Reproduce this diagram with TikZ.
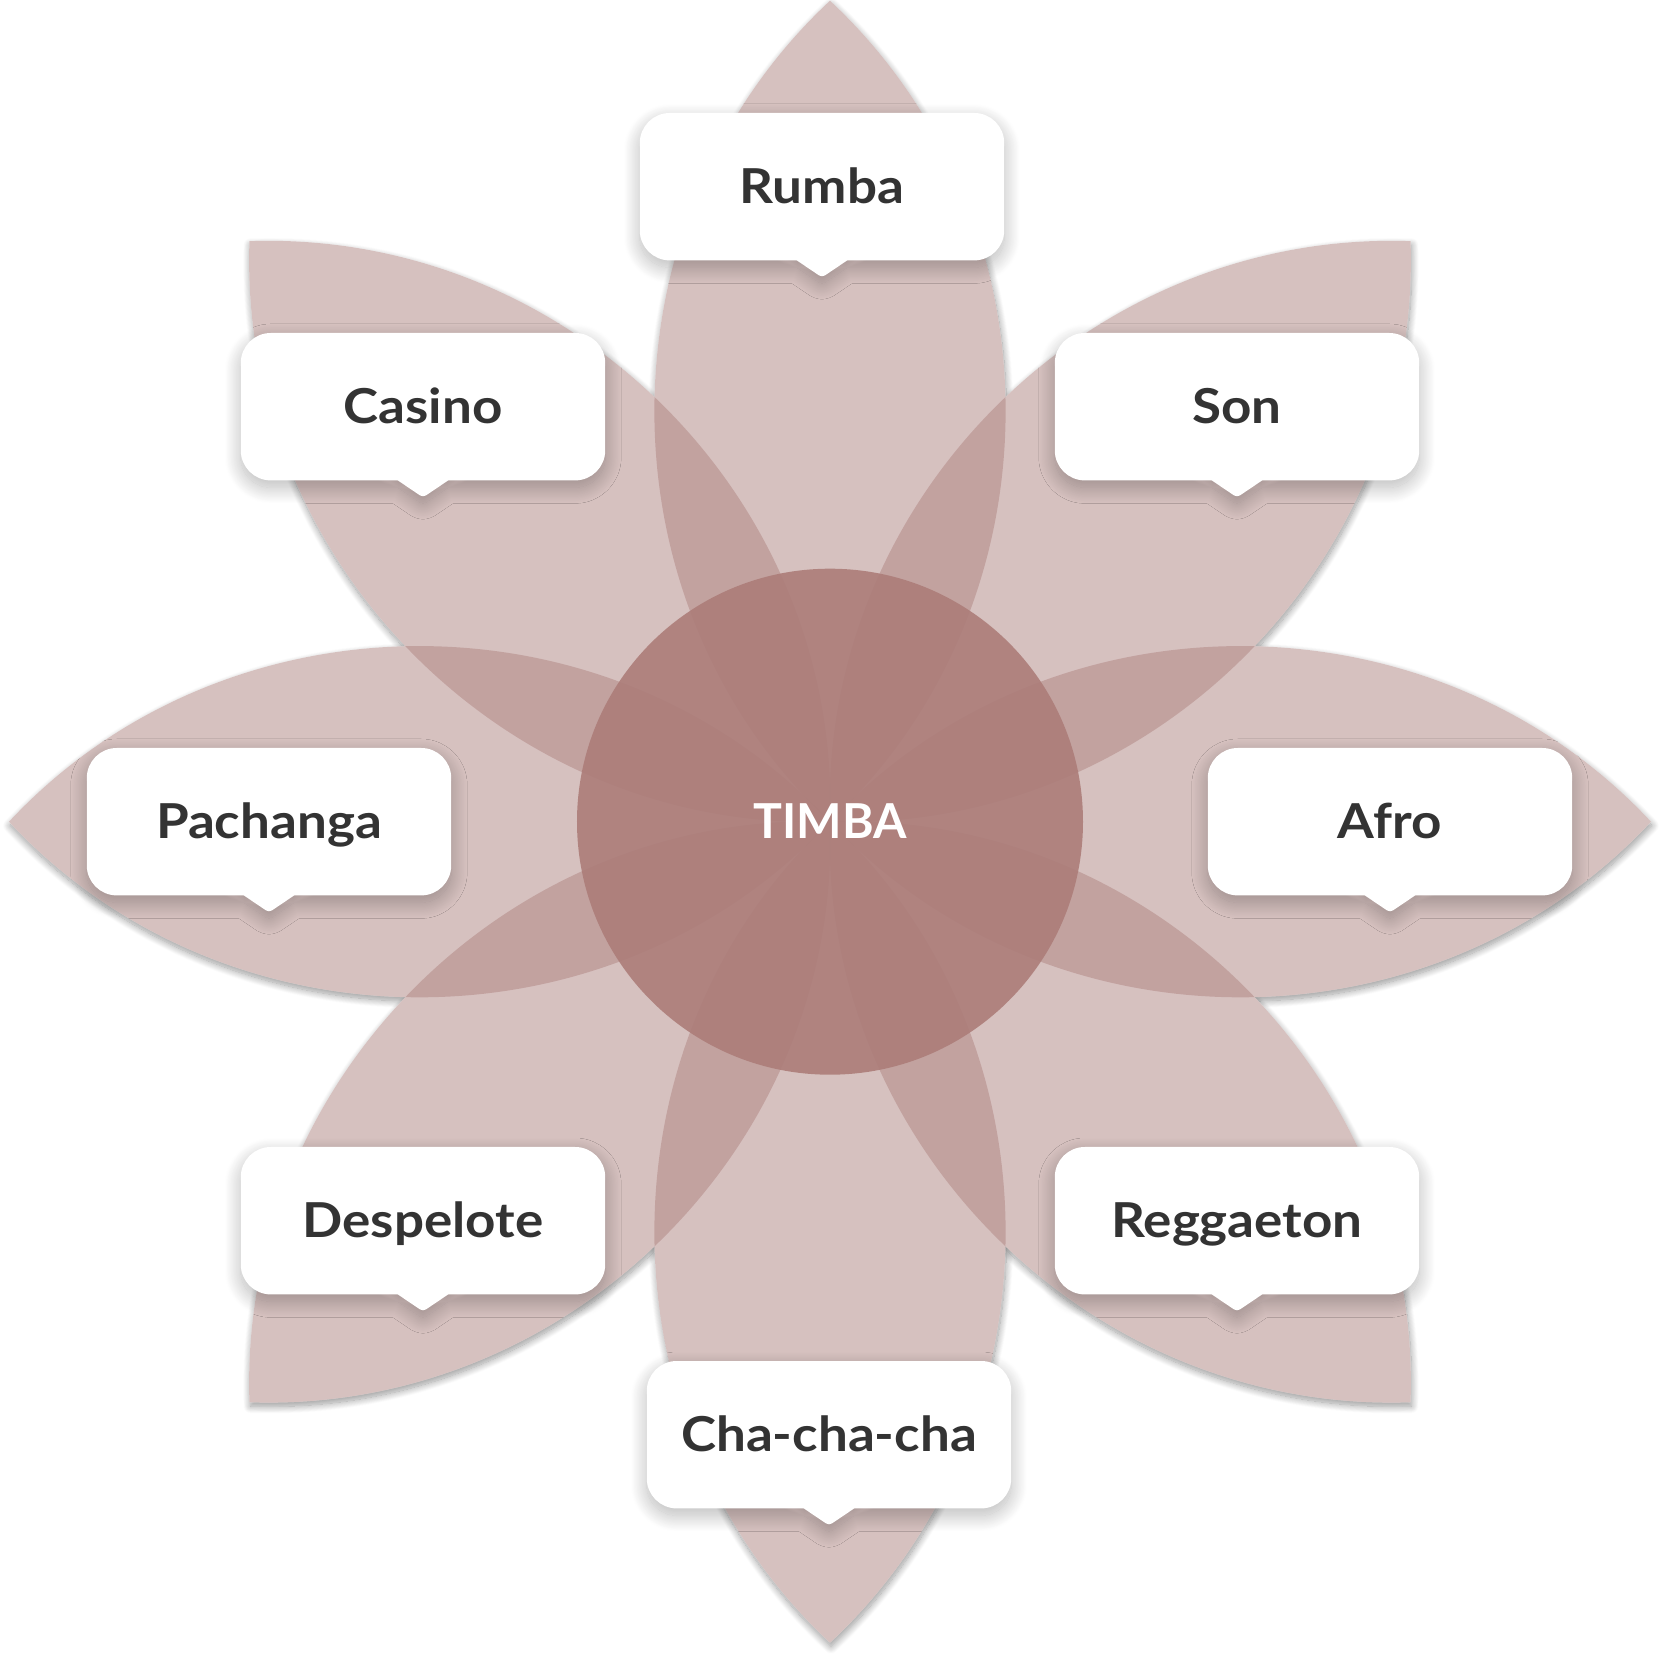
\documentclass[tikz,border=0pt]{standalone}
\usepackage{fontspec}
\setmainfont{Lato}
\newfontfamily\labelfont[FakeStretch=1.1]{Lato}
\usetikzlibrary{backgrounds, shadows.blur}
\definecolor{petalrose}{RGB}{175,132,129}
\definecolor{centerrose}{RGB}{172,125,121}
\definecolor{labelgray}{RGB}{51,51,51}

\begin{document}
\begin{tikzpicture}
\tikzstyle{lbl} = [rectangle, minimum width=3.63cm, minimum height=1.46cm, text height=.34cm, text depth=0pt, font=\labelfont\bfseries\fontsize{13.7}{16}\selectfont, text=labelgray]
\tikzstyle{petalshadow} = [blur shadow={shadow xshift=.01cm, shadow yshift=-.04cm, shadow blur radius=.07cm, shadow blur steps=16, shadow opacity=40}]
\tikzstyle{petal} = [fill=petalrose, fill opacity=.5]
\tikzstyle{card} = [fill=white, blur shadow={shadow xshift=0cm, shadow yshift=-.07cm, shadow blur radius=.16cm, shadow blur steps=30, shadow opacity=28}]

\useasboundingbox (-8.30,-8.443) rectangle (8.50,8.217);

\coordinate (c) at (0,0);
\foreach \a in {0,45,...,315} \coordinate (tip\a) at (\a:8.21);

% petals: shadows, white base, then the see-through colour
\begin{scope}[on background layer]
\foreach \a in {0,45,...,315}
  \path[petalshadow] (c) to[bend left=47] (tip\a) to[bend left=47] (c) -- cycle;
\foreach \a in {0,45,...,315}
  \fill[white] (c) to[bend left=47] (tip\a) to[bend left=47] (c) -- cycle;
\foreach \a in {0,45,...,315}
  \fill[petal] (c) to[bend left=47] (tip\a) to[bend left=47] (c) -- cycle;
\end{scope}

\node (timba) [circle, minimum size=5.06cm, fill=centerrose, fill opacity=.9, text opacity=1, text=white, text height=.34cm, text depth=0pt, font=\bfseries\fontsize{13.7}{16}\selectfont] at (c) {TIMBA};

\node (rumba) [lbl, above of=timba, yshift=5.35cm, xshift=-.08cm] {Rumba};
\node (casino) [lbl, above of=timba, yshift=3.15cm, xshift=-4.07cm] {Casino};
\node (son) [lbl, above of=timba, yshift=3.15cm, xshift=4.07cm] {Son};
\node (pachanga) [lbl, left of=timba, xshift=-4.61cm] {Pachanga};
\node (afro) [lbl, right of=timba, xshift=4.6cm] {Afro};
\node (despelote) [lbl, below of=timba, yshift=-2.99cm, xshift=-4.07cm] {Despelote};
\node (reggaeton) [lbl, below of=timba, yshift=-2.99cm, xshift=4.07cm] {Reggaeton};
\node (chacha) [lbl, below of=timba, yshift=-5.13cm, xshift=-.01cm] {Cha-cha-cha};

% white cards with a small pointer under each label
\begin{scope}[on background layer]
\foreach \n in {rumba, casino, son, pachanga, afro, despelote, reggaeton, chacha}
  \fill[card] [rounded corners=.3cm] (\n.south west) rectangle (\n.north east)
    [rounded corners=1pt] ([xshift=.4cm, yshift=.1cm]\n.south) -- ([yshift=-.17cm]\n.south) -- ([xshift=-.4cm, yshift=.1cm]\n.south) -- cycle;
\end{scope}

\end{tikzpicture}
\end{document}
